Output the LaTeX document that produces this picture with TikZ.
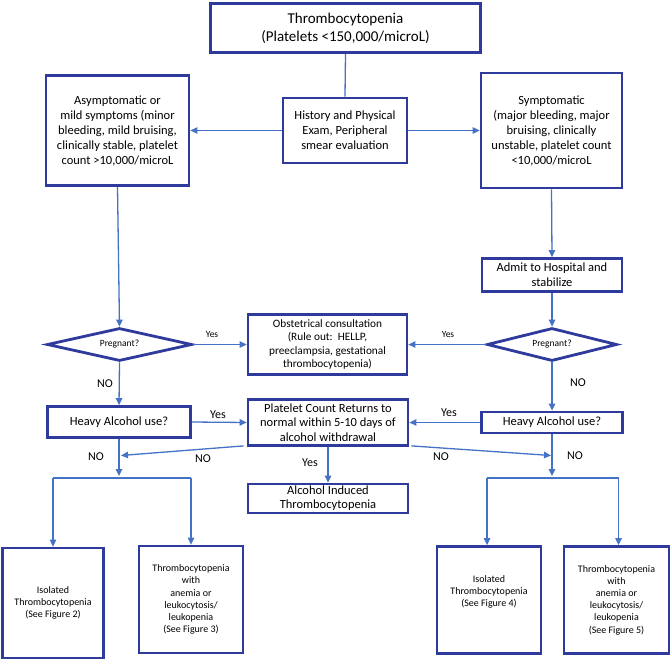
\documentclass[tikz,border=0pt]{standalone}
\usepackage{fontspec}
\setmainfont{Carlito}
\usetikzlibrary{shapes.geometric,arrows.meta}
\definecolor{boxblue}{RGB}{46,58,156}
\definecolor{linkblue}{RGB}{68,114,196}
\newcommand\fsz[2]{\fontsize{#1}{#2}\selectfont}
\tikzset{
  box/.style={draw=boxblue, line width=2.8pt, align=center, inner sep=1pt, font=\fsz{12.5}{15}},
  smallbox/.style={box, font=\fsz{10}{12.2}},
  decide/.style={draw=boxblue, line width=2.8pt, shape=diamond, aspect=4.4, inner sep=0pt, font=\fsz{9.5}{11}},
  link/.style={draw=linkblue, line width=1.3pt},
  arr/.style={link, -{Triangle[length=7pt,width=6.5pt]}},
  lbl/.style={font=\fsz{12}{14}, inner sep=0pt},
  slbl/.style={font=\fsz{9.5}{11}, inner sep=0pt}
}
\begin{document}
\begin{tikzpicture}[x=1pt,y=-1pt]
\useasboundingbox (0,0) rectangle (671,660);
% boxes
\node[box, font=\fsz{15}{18}, minimum width=270pt, minimum height=49pt] (top) at (345.5,28) {Thrombocytopenia\\(Platelets <150,000/microL)};
\node[box, minimum width=124pt, minimum height=65pt] (mid) at (345,130.5) {History and Physical\\Exam, Peripheral\\smear evaluation};
\node[box, minimum width=143pt, minimum height=110pt] (left) at (117.5,130.5) {Asymptomatic or\\mild symptoms (minor\\bleeding, mild bruising,\\clinically stable, platelet\\count >10,000/microL};
\node[box, minimum width=141pt, minimum height=115pt] (right) at (551.5,130.5) {Symptomatic\\(major bleeding, major\\bruising, clinically\\unstable, platelet count\\<10,000/microL};
\node[box, minimum width=140pt, minimum height=33pt] (admit) at (552,275) {Admit to Hospital and\\stabilize};
\node[decide, minimum width=145pt, minimum height=33pt] (ldia) at (119.5,344.5) {Pregnant?};
\node[decide, minimum width=130pt, minimum height=33pt] (rdia) at (552,344.5) {Pregnant?};
\node[box, font=\fsz{11.3}{13.4}, minimum width=159pt, minimum height=60pt] (obst) at (327.5,344.5) {Obstetrical consultation\\(Rule out:\ \ HELLP,\\preeclampsia, gestational\\thrombocytopenia)};
\node[box, minimum width=143pt, minimum height=31pt] (lheavy) at (119,422) {Heavy Alcohol use?};
\node[box, minimum width=141pt, minimum height=21pt] (rheavy) at (552,422.5) {Heavy Alcohol use?};
\node[box, minimum width=160pt, minimum height=46pt, font=\fsz{12.5}{14.5}] (plat) at (328,422.5) {Platelet Count Returns to\\normal within 5-10 days of\\alcohol withdrawal};
\node[box, minimum width=160pt, minimum height=29pt, font=\fsz{12.5}{14}] (alc) at (328,498.5) {Alcohol Induced\\Thrombocytopenia};
\node[smallbox, minimum width=101pt, minimum height=110pt] (b1) at (53,603) {Isolated\\Thrombocytopenia\\(See Figure 2)};
\node[smallbox, minimum width=104pt, minimum height=107pt] (b2) at (191,599.5) {Thrombocytopenia\\with\\anemia or\\leukocytosis/\\leukopenia\\(See Figure 3)};
\node[smallbox, minimum width=104pt, minimum height=107pt] (b3) at (489,600) {Isolated\\Thrombocytopenia\\(See Figure 4)\\[6pt]};
\node[smallbox, minimum width=105pt, minimum height=107pt] (b4) at (616.5,600) {Thrombocytopenia\\with\\anemia or\\leukocytosis/\\leukopenia\\(See Figure 5)};
% junction coordinates
\coordinate (lj) at (119,476);
\coordinate (rj) at (552,476);
\coordinate (lbar) at (119,478);
\coordinate (rbar) at (552,478);
\coordinate (lnoend) at (121,455.5);
\coordinate (rnoend) at (551,455.5);
% connectors
\draw[link] (top.south) -- (mid.north);
\draw[arr] (mid.west) -- (left.east);
\draw[arr] (mid.east) -- (right.west);
\draw[arr] (left.south) -- (ldia.north);
\draw[arr] (right.south) -- (admit.north);
\draw[arr] (admit.south) -- (rdia.north);
\draw[arr] (ldia.east) -- (obst.west);
\draw[arr] (rdia.west) -- (obst.east);
\draw[arr] (ldia.south) -- (lheavy.north);
\draw[arr] (rdia.south) -- (rheavy.north);
\draw[arr] (lheavy.east) -- (plat.west);
\draw[arr] (rheavy.west) -- (plat.east);
\draw[arr] (plat.south) -- (alc.north);
\draw[arr] (lheavy.south) -- (lj);
\draw[arr] (rheavy.south) -- (rj);
\draw[arr] ([xshift=-3pt,yshift=1pt]plat.south west) -- (lnoend);
\draw[arr] ([xshift=2pt,yshift=1pt]plat.south east) -- (rnoend);
\draw[link] (b1.north |- lbar) -- (b2.north |- lbar);
\draw[arr] (b1.north |- lbar) -- (b1.north);
\draw[arr] (b2.north |- lbar) -- (b2.north);
\draw[link] ([xshift=-2pt]b3.north |- rbar) -- ([xshift=2pt]b4.north |- rbar);
\draw[arr] ([xshift=-2pt]b3.north |- rbar) -- ([xshift=-2pt]b3.north);
\draw[arr] ([xshift=2pt]b4.north |- rbar) -- ([xshift=2pt]b4.north);
% labels
\node[slbl] (ly1) at (212,334) {Yes};
\node[slbl] (ry1) at (448,334) {Yes};
\node[lbl] (ln1) at (105,384) {NO};
\node[lbl] (rn1) at (578,383) {NO};
\node[lbl] (ly2) at (218,415) {Yes};
\node[lbl] (ry2) at (449,413) {Yes};
\node[lbl] (ln2) at (96,457) {NO};
\node[lbl] (ln3) at (203,459) {NO};
\node[lbl] (yc) at (310,463) {Yes};
\node[lbl] (rn3) at (441,457) {NO};
\node[lbl] (rn2) at (575,456) {NO};
\end{tikzpicture}
\end{document}
